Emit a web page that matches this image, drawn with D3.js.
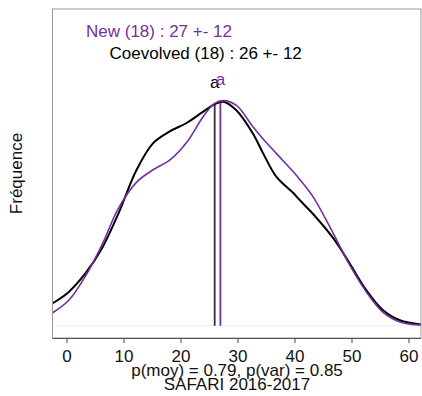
<!DOCTYPE html>
<html>
<head>
<meta charset="utf-8">
<script src="https://cdn.jsdelivr.net/npm/d3@7"></script>
<style>
  body { margin: 0; background: #fff; }
  text { font-family: "Liberation Sans", Arial, sans-serif; }
</style>
</head>
<body>
<div id="chart"></div>
<script>
// density curves (x = score, y = density x1000)
const xs = [-2.5, 0.4, 3.3, 6.2, 9.1, 12.3, 15.2, 18.1, 21, 24, 26, 27.5, 29.8,
            32.7, 34.5, 36.8, 39.8, 41, 43.3, 46.8, 49.7, 52.6, 55.5, 58.5, 62.2];
const coevolved = [3.25, 4.95, 7.64, 11.3, 16.4, 22.8, 26.7, 28.4, 29.6, 31.3, 32.4, 32.75, 31.5,
                   28.1, 25.2, 21.8, 19.4, 18.3, 16.3, 12.8, 9.1, 5.2, 2.3, 0.8, 0.2];
const newer = [1.87, 3.73, 7.24, 11.8, 17.15, 21.0, 22.8, 24.2, 26.7, 30.6, 32.5, 32.9, 32.2,
               29.1, 27.3, 25.2, 22.5, 21.3, 18.8, 13.5, 8.85, 4.95, 2.0, 0.56, 0.1];

const seriesNames = ["Coevolved", "New"];
const counts = [18, 18];
const means = [26, 27];
const sds = [12, 12];
const meanTops = [32.4, 32.9];   // curve height at the mean (x1000)
const letters = ["a", "a"];
const xTicks = [0, 10, 20, 30, 40, 50, 60];
const pText = "p(moy) = 0.79, p(var) = 0.85";
const title = "SAFARI 2016-2017";
const yLabel = "Fréquence";

const colors = ["#000000", "#7030a0"];
const fs = 17;

const W = 422, H = 396;
const mLeft = 52.5, mTop = 9, mRight = 421, mBottom = 338;

const svg = d3.select("#chart").append("svg")
    .attr("width", W)
    .attr("height", H);

const x = d3.scaleLinear().domain([-2.46, 62.2]).range([mLeft, mRight]);
const y = d3.scaleLinear().domain([-1.79, 46.3]).range([mBottom, mTop]);

// faint zero line
svg.append("line")
    .attr("x1", mLeft).attr("x2", mRight)
    .attr("y1", y(0)).attr("y2", y(0))
    .attr("stroke", "#eeeeee");

const line = d3.line()
    .x((d, i) => x(xs[i]))
    .y(d => y(d))
    .curve(d3.curveCatmullRom);

const series = [coevolved, newer];

// mean lines
svg.append("g").selectAll("line")
    .data(means)
    .join("line")
    .attr("x1", d => x(d)).attr("x2", d => x(d))
    .attr("y1", y(0))
    .attr("y2", (d, i) => y(meanTops[i]))
    .attr("stroke", (d, i) => i === 0 ? "#333" : colors[i])
    .attr("stroke-width", 1.8);

svg.append("g").selectAll("path")
    .data(series)
    .join("path")
    .attr("d", line)
    .attr("fill", "none")
    .attr("stroke", (d, i) => colors[i])
    .attr("stroke-width", (d, i) => i === 0 ? 2 : 1.6);

// letters above the means
svg.append("g").selectAll("text")
    .data(letters)
    .join("text")
    .attr("x", (d, i) => x(means[i]))
    .attr("y", (d, i) => i === 0 ? 87.5 : 84.5)
    .attr("text-anchor", "middle")
    .attr("font-size", fs)
    .attr("fill", (d, i) => colors[i])
    .text(d => d);

// box
svg.append("rect")
    .attr("x", mLeft).attr("y", mTop)
    .attr("width", mRight - mLeft).attr("height", mBottom - mTop)
    .attr("fill", "none")
    .attr("stroke", "#999");

// x axis
const xAxis = d3.axisBottom(x)
    .tickValues(xTicks)
    .tickSize(5)
    .tickPadding(7)
    .tickFormat(d3.format("d"));

svg.append("g")
    .attr("transform", `translate(0,${mBottom})`)
    .call(xAxis)
    .call(g => g.select(".domain").attr("d", `M${mLeft},0.5H${mRight}`).attr("stroke", "#555"))
    .call(g => g.selectAll(".tick line").attr("stroke", "#444"))
    .call(g => g.selectAll(".tick text")
        .attr("font-size", fs)
        .attr("font-family", "Liberation Sans, Arial, sans-serif")
        .attr("fill", "#111"));

// legend-like lines at top
svg.append("text")
    .attr("x", 86).attr("y", 37)
    .attr("font-size", fs)
    .attr("fill", colors[1])
    .text(`${seriesNames[1]} (${counts[1]}) : ${means[1]} +- ${sds[1]}`);

svg.append("text")
    .attr("x", 109.5).attr("y", 58.5)
    .attr("font-size", fs)
    .attr("fill", colors[0])
    .text(`${seriesNames[0]} (${counts[0]}) : ${means[0]} +- ${sds[0]}`);

// bottom texts
svg.append("text")
    .attr("x", 237).attr("y", 376)
    .attr("text-anchor", "middle")
    .attr("font-size", fs)
    .attr("fill", "#111")
    .text(pText);

svg.append("text")
    .attr("x", 237).attr("y", 390)
    .attr("text-anchor", "middle")
    .attr("font-size", fs)
    .attr("fill", "#111")
    .text(title);

// y label
svg.append("text")
    .attr("transform", `translate(22,${(mTop + mBottom) / 2}) rotate(-90)`)
    .attr("text-anchor", "middle")
    .attr("font-size", fs)
    .attr("fill", "#111")
    .text(yLabel);
</script>
</body>
</html>
